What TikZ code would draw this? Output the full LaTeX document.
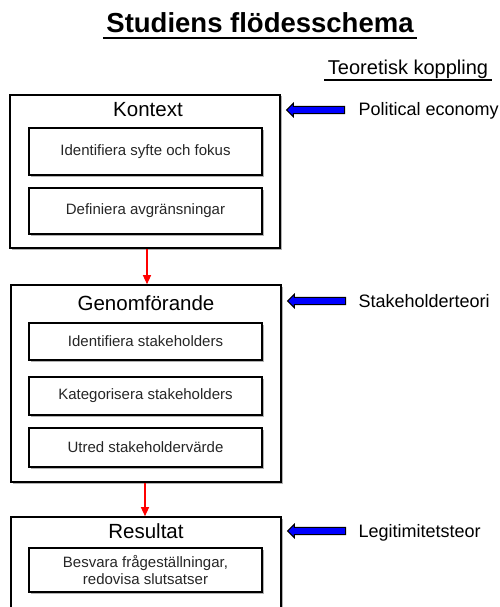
\documentclass[tikz,border=0pt]{standalone}
\usepackage{fontspec}
\setmainfont{Liberation Sans}
\usetikzlibrary{arrows.meta,shapes.arrows,shadows}
\begin{document}
\begin{tikzpicture}[x=1pt,y=-1pt,
  boxshadow/.style={drop shadow={shadow xshift=1.5pt,shadow yshift=-1.5pt,fill=black!30,opacity=1}},
  stage/.style={rectangle,draw=black,line width=1.6pt,fill=white,boxshadow,inner sep=0pt},
  task/.style={rectangle,draw=black,line width=1.6pt,fill=white,boxshadow,
    minimum width=233pt,inner sep=0pt,align=center,
    font=\fontsize{15}{17}\selectfont,text=black!85},
  stagetitle/.style={anchor=base,font=\fontsize{20.5}{23}\selectfont},
  flow/.style={red,line width=1.3pt,-{Triangle[width=8pt,length=9pt]}},
  theoryarrow/.style={single arrow,draw=black,line width=1pt,fill=blue,
    minimum height=58pt,single arrow head extend=3pt,
    inner xsep=0pt,inner ysep=3.2pt,shape border rotate=180},
  theory/.style={anchor=base west,font=\fontsize{18}{21}\selectfont}
]
\useasboundingbox (0,0) rectangle (499,607);
\clip (0,0) rectangle (499,607);

% heading
\node[anchor=base,font=\fontsize{27.5}{31}\selectfont\bfseries] (title) at (260,33) {Studiens flödesschema};
\draw[line width=2.4pt] ([yshift=-5pt]title.base west) -- ([yshift=-5pt]title.base east);

\node[anchor=base,font=\fontsize{20}{23}\selectfont] (theohead) at (408,75) {Teoretisk koppling};
\draw[line width=1.1pt] ([yshift=-5pt]theohead.base west) -- ([yshift=-5pt]theohead.base east);

% stage 1
\node[stage,minimum width=270pt,minimum height=153pt] (ctx) at (145,171.5) {};
\node[stagetitle] (ctxtitle) at (148,117) {Kontext};
\node[task,minimum height=47pt] (t11) at (145.5,151.5) {Identifiera syfte och fokus};
\node[task,minimum height=46pt] (t12) at (145.5,211) {Definiera avgränsningar};

% stage 2
\node[stage,minimum width=270pt,minimum height=197pt] (gen) at (146,383.5) {};
\node[stagetitle] (gentitle) at (146,310) {Genomförande};
\node[task,minimum height=37pt] (t21) at (145.5,341.5) {Identifiera stakeholders};
\node[task,minimum height=38pt] (t22) at (145.5,396) {Kategorisera stakeholders};
\node[task,minimum height=39pt] (t23) at (145.5,447.5) {Utred stakeholdervärde};

% stage 3
\node[stage,minimum width=270pt,minimum height=140pt] (res) at (146,587) {};
\node[stagetitle] (restitle) at (146,538) {Resultat};
\node[task,minimum height=44pt] (t31) at (145.5,570) {Besvara frågeställningar,\\redovisa slutsatser};

% flow between stages
\draw[flow] (ctx.south -| 147,0) -- (gen.north -| 147,0);
\draw[flow] (gen.south -| 145,0) -- (res.north -| 145,0);

% theoretical links
\node[theoryarrow] (a1) at (317.5,110) {};
\node[theory] (th1) at (355,116) {Political economy};
\node[theoryarrow] (a2) at (318.5,301) {};
\node[theory] (th2) at (355,307) {Stakeholderteori};
\node[theoryarrow] (a3) at (318.5,531) {};
\node[theory] (th3) at (355,537) {Legitimitetsteor};
\end{tikzpicture}
\end{document}
